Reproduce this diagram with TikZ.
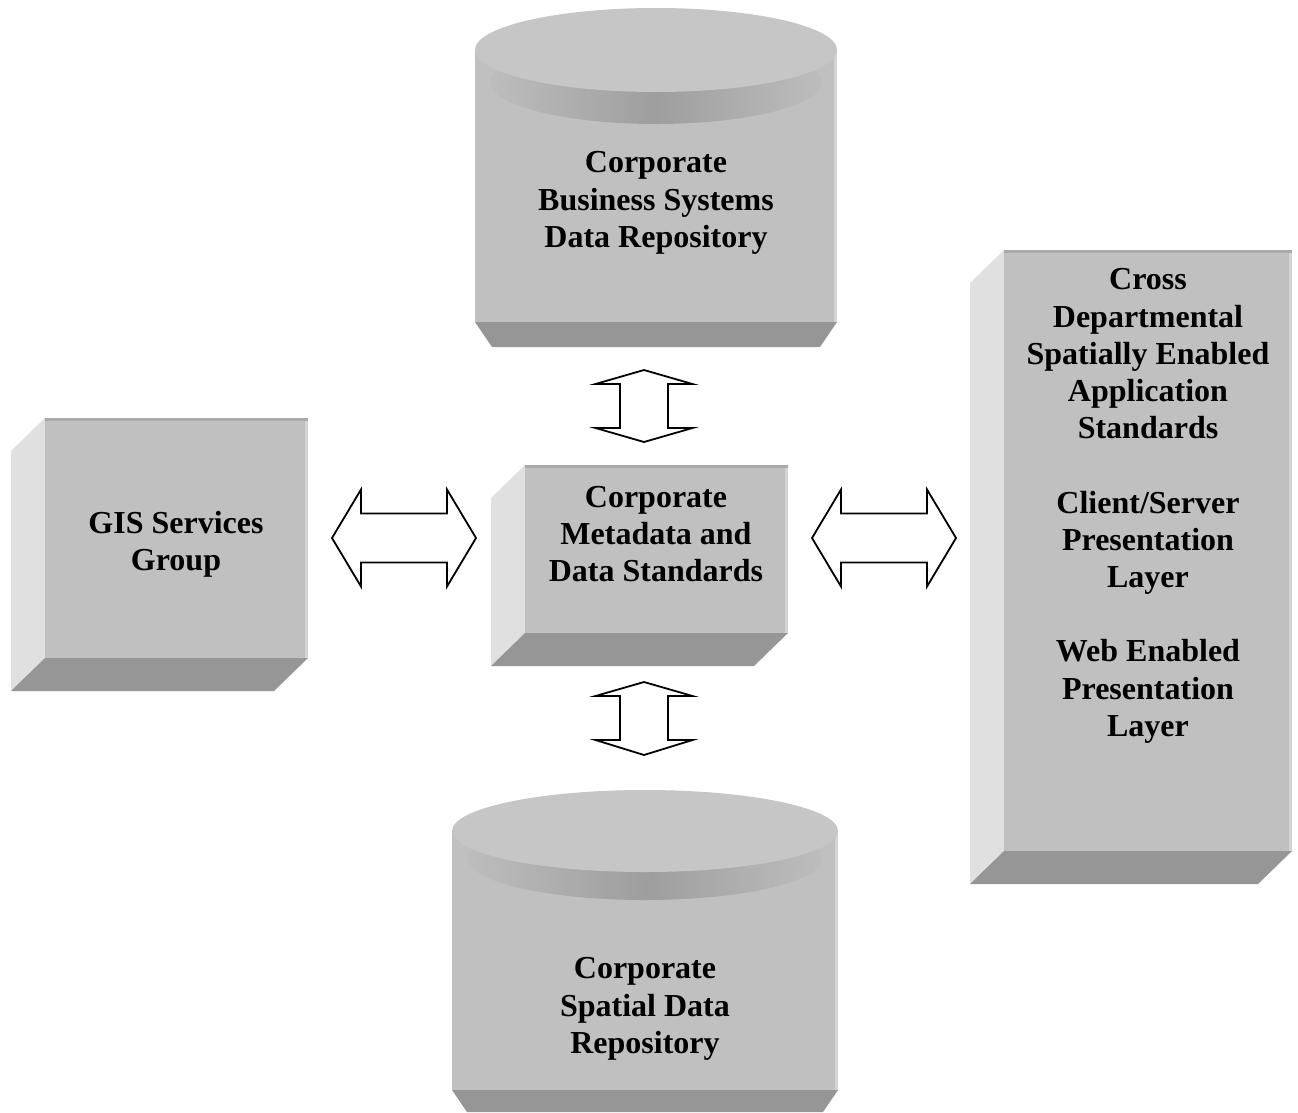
\documentclass[tikz,border=0pt]{standalone}
\usepackage{fontspec}
\setmainfont{Liberation Serif}
\definecolor{frontC}{HTML}{C0C0C0}
\definecolor{frontLt}{HTML}{D4D4D4}
\definecolor{sideC}{HTML}{E0E0E0}
\definecolor{bottomC}{HTML}{969696}
\definecolor{stripC}{HTML}{AAAAAA}
\definecolor{topC}{HTML}{C6C6C6}
\definecolor{rimD}{HTML}{9E9E9E}
\definecolor{rimL}{HTML}{BDBDBD}
\newcommand\solidbox[4]{%
  \fill[sideC] (#1,#2) -- (#1-34,#2+33) -- (#1-34,#4+33) -- (#1,#4) -- cycle;
  \fill[bottomC] (#1,#4) -- (#3,#4) -- (#3-34,#4+33) -- (#1-34,#4+33) -- cycle;
  \fill[frontC] (#1,#2) rectangle (#3,#4);
  \fill[stripC] (#1,#2) rectangle (#3,#2+3);
  \fill[frontLt] (#3-3,#2+3) rectangle (#3,#4);
}
% cylinder: cx, ellipse centre y, rx, ry, lower ellipse centre y, lower rx, body bottom, band bottom, inset
\newcommand\cylinder[9]{%
  \fill[frontC] (#1-#3,#2) rectangle (#1+#3,#7);
  \fill[frontLt] (#1+#3-3,#2) rectangle (#1+#3,#7);
  \fill[bottomC] (#1-#3,#7) -- (#1+#3,#7) -- (#1+#3-#9,#8) -- (#1-#3+#9,#8) -- cycle;
  \shade[left color=rimL, right color=rimL, middle color=rimD] (#1,#5) ellipse [x radius=#6pt, y radius=#4pt];
  \fill[topC] (#1,#2) ellipse [x radius=#3pt, y radius=#4pt];
}
\newcommand\vblockarrow[5]{%
  \draw[blockarrow] (#1,#2) -- (#1+48.5,#3) -- (#1+24,#3) -- (#1+24,#4) -- (#1+48.5,#4) -- (#1,#5)
    -- (#1-48.5,#4) -- (#1-24,#4) -- (#1-24,#3) -- (#1-48.5,#3) -- cycle;
}
\newcommand\hblockarrow[5]{%
  \draw[blockarrow] (#2,#1) -- (#3,#1-48.5) -- (#3,#1-24.5) -- (#4,#1-24.5) -- (#4,#1-48.5) -- (#5,#1)
    -- (#4,#1+48.5) -- (#4,#1+24.5) -- (#3,#1+24.5) -- (#3,#1+48.5) -- cycle;
}
\begin{document}
\begin{tikzpicture}[x=1pt,y=-1pt,
  lbl/.style={font=\fontsize{32}{37.2}\selectfont\bfseries, align=center, inner sep=0pt},
  blockarrow/.style={draw=black, fill=white, line width=1.8pt, line join=miter}]
\fill[white] (0,0) rectangle (1298,1112);
\useasboundingbox (0,0) rectangle (1298,1112);

% top cylinder
\cylinder{656}{50}{181}{42}{82}{166}{322}{347}{17}
% bottom cylinder
\cylinder{645}{831}{193}{41}{859}{177}{1090}{1112}{15}

% boxes
\solidbox{45}{418}{308}{658}
\solidbox{525}{465}{788}{633}
\solidbox{1004}{250}{1292}{851}

% labels
\node[lbl] (bus) at (656,203) {Corporate\\Business Systems\\Data Repository};
\node[lbl] (gis) at (176,544) {GIS Services\\Group};
\node[lbl] (meta) at (656,534) {Corporate\\Metadata and\\Data Standards};
\node[lbl] (cross) at (1148,506) {Cross\\Departmental\\Spatially Enabled\\Application\\Standards\\[37.2pt]Client/Server\\Presentation\\Layer\\[37.2pt]Web Enabled\\Presentation\\Layer};
\node[lbl] (spat) at (645,1009) {Corporate\\Spatial Data\\Repository};

% block arrows
\vblockarrow{644}{370}{384}{428}{442}
\vblockarrow{644}{682}{696}{740}{755}
\hblockarrow{538}{332}{361}{447}{476}
\hblockarrow{538}{812}{841}{927}{956}
\end{tikzpicture}
\end{document}
